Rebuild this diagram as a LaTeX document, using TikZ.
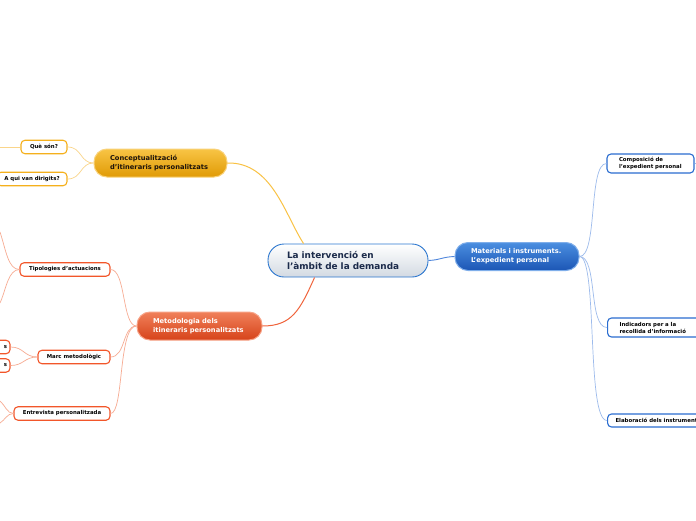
\documentclass[tikz,border=0pt]{standalone}
\usepackage{fontspec}
\setmainfont{DejaVu Sans}
\usetikzlibrary{calc,shadings}
\definecolor{hubborder}{HTML}{2C77CF}
\definecolor{hubbot}{HTML}{D3DAE2}
\definecolor{hubtext}{HTML}{1B2A4A}
\definecolor{otop}{HTML}{F8C445}
\definecolor{obot}{HTML}{E09A05}
\definecolor{oborder}{HTML}{F9D27A}
\definecolor{oline}{HTML}{F9C245}
\definecolor{osub}{HTML}{FAD58A}
\definecolor{osubb}{HTML}{F5B01C}
\definecolor{rtop}{HTML}{F0805A}
\definecolor{rbot}{HTML}{D6431A}
\definecolor{rborder}{HTML}{F7A286}
\definecolor{rline}{HTML}{F0643C}
\definecolor{rsub}{HTML}{F7AC93}
\definecolor{rsubb}{HTML}{F2562A}
\definecolor{btop}{HTML}{4A8EE0}
\definecolor{bbot}{HTML}{1C56B5}
\definecolor{bborder}{HTML}{7FAEEA}
\definecolor{bline}{HTML}{4F86DC}
\definecolor{bsub}{HTML}{9DBBEC}
\definecolor{bsubb}{HTML}{2A6DD0}
\tikzset{
  hubnode/.style={rounded corners=16pt, draw=hubborder, line width=0.9pt,
    top color=white, bottom color=hubbot, text=hubtext,
    font=\fontsize{8.9}{11}\selectfont\bfseries, align=left,
    inner xsep=19pt, inner ysep=0pt, text width=122pt, minimum height=33pt},
  mainnode/.style={rounded corners=13pt, line width=1pt,
    font=\fontsize{6.7}{9}\selectfont\bfseries, align=left,
    inner xsep=16pt, inner ysep=0pt, minimum height=28pt},
  subnode/.style={rounded corners=4pt, fill=white, line width=1.1pt,
    font=\fontsize{5.4}{7}\selectfont\bfseries, text=black,
    inner ysep=0pt, minimum height=13.5pt},
  omain/.style={draw=oline, line width=1pt},
  osubl/.style={draw=osub, line width=0.7pt},
  rmain/.style={draw=rline, line width=1pt},
  rsubl/.style={draw=rsub, line width=0.7pt},
  bmain/.style={draw=bline, line width=0.9pt},
  bsubl/.style={draw=bsub, line width=0.7pt},
}
\begin{document}
\begin{tikzpicture}[x=1pt,y=-1pt]
\clip (0,0) rectangle (696,520);
\fill[white] (0,0) rectangle (696,520);

% hub
\node[hubnode] (hub) at (348,260.5) {\mbox{La intervenció en}\\\mbox{l'àmbit de la demanda}};

% main nodes
\node[mainnode, draw=oborder, top color=otop, bottom color=obot, text=black!85!brown, text width=101pt] (conc) at (160.5,163) {\mbox{Conceptualització}\\\mbox{d'itineraris personalitzats}};
\node[mainnode, draw=rborder, top color=rtop, bottom color=rbot, text=white, text width=93pt] (meto) at (199.5,326) {\mbox{Metodologia dels}\\\mbox{itineraris personalitzats}};
\node[mainnode, draw=bborder, top color=btop, bottom color=bbot, text=white, text width=92pt] (mat) at (517,256.5) {\mbox{Materials i instruments.}\\\mbox{L'expedient personal}};

% orange subnodes
\node[subnode, draw=osubb, minimum width=46pt] (que) at (44,147) {Què són?};
\node[subnode, draw=osubb, minimum width=70pt] (aqui) at (32,179) {A qui van dirigits?};

% red subnodes
\node[subnode, draw=rsubb, minimum width=90pt] (tip) at (65,269.5) {Tipologies d'actuacions};
\node[subnode, draw=rsubb, minimum width=72pt] (marc) at (74,357) {Marc metodològic};
\node[subnode, draw=rsubb, minimum width=96pt] (entr) at (62,413.5) {Entrevista personalitzada};
\node[subnode, draw=rsubb, text width=34pt, align=right, inner xsep=3pt] (sa) at (-10,347) {s};
\node[subnode, draw=rsubb, text width=34pt, align=right, inner xsep=3pt] (sb) at (-10,365.5) {s};

% blue subnodes
\node[subnode, draw=bsubb, align=left, text width=63pt, inner xsep=12pt, minimum height=19pt] (comp) at (650.5,163.5) {\mbox{Composició de}\\\mbox{l'expedient personal}};
\node[subnode, draw=bsubb, align=left, text width=80pt, inner xsep=12pt, minimum height=19pt, anchor=west] (indi) at (607,327.5) {\mbox{Indicadors per a la}\\\mbox{recollida d'informació}};
\node[subnode, draw=bsubb, inner xsep=8pt, minimum height=13pt, anchor=west] (elab) at (607,420.5) {Elaboració dels instruments};

% free ends off the page
\coordinate (q0) at (0,147);
\coordinate (t0) at (0,232);
\coordinate (t1) at (0,303);
\coordinate (e0) at (0,401);
\coordinate (e1) at (0,423);
\coordinate (c0) at (702,163.5);

% connectors hub -> main
\draw[omain] (conc.east) .. controls (272,162) and (285,215) .. ($(hub.north west)+(36,0)$);
\draw[rmain] ($(hub.south west)+(47,0)$) .. controls (300,310) and (292,326) .. (meto.east);
\draw[bmain] (hub.east) .. controls (440,260) and (442,257) .. (mat.west);

% orange subs
\draw[osubl] (conc.west) .. controls (80,163) and (82,147) .. (que.east);
\draw[osubl] (conc.west) .. controls (80,163) and (82,179) .. (aqui.east);
\draw[osubl] (que.west) -- (q0);

% red subs
\draw[rsubl] (meto.west) .. controls (122,326) and (126,269.5) .. (tip.east);
\draw[rsubl] (meto.west) .. controls (122,326) and (126,357) .. (marc.east);
\draw[rsubl] (meto.west) .. controls (118,326) and (124,413.5) .. (entr.east);
\draw[rsubl] (tip.west) .. controls (8,269.5) and (6,250) .. (t0);
\draw[rsubl] (tip.west) .. controls (8,269.5) and (6,290) .. (t1);
\draw[rsubl] (marc.west) .. controls (24,357) and (24,347) .. (sa.east);
\draw[rsubl] (marc.west) .. controls (24,357) and (24,365.5) .. (sb.east);
\draw[rsubl] (entr.west) .. controls (7,413.5) and (5,405) .. (e0);
\draw[rsubl] (entr.west) .. controls (7,413.5) and (5,420) .. (e1);

% blue subs
\draw[bsubl] (mat.east) .. controls (598,256.5) and (588,163.5) .. (comp.west);
\draw[bsubl] (mat.east) .. controls (598,256.5) and (588,327.5) .. (indi.west);
\draw[bsubl] (mat.east) .. controls (598,256.5) and (586,420.5) .. (elab.west);
\draw[bsubl] (comp.east) -- (c0);
\end{tikzpicture}
\end{document}
